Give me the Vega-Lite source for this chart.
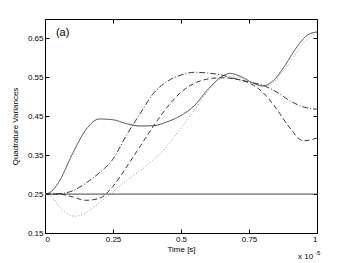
{
  "$schema": "https://vega.github.io/schema/vega-lite/v6.json",
  "autosize": "none",
  "width": 272,
  "height": 214,
  "padding": {"left": 45, "top": 19, "right": 32, "bottom": 30},
  "background": "white",
  "config": {
    "view": {"stroke": "black", "strokeWidth": 1},
    "font": "Liberation Sans",
    "axis": {"labelFont": "Liberation Sans", "titleFont": "Liberation Sans", "labelFontSize": 8, "titleFontSize": 8, "titleFontWeight": "normal", "labelColor": "black", "titleColor": "black", "domainColor": "black", "tickColor": "black", "grid": false}
  },
  "datasets": {
    "curves": [
      {"s": "solid", "x": 0, "y": 0.25}, {"s": "solid", "x": 0.02, "y": 0.255}, {"s": "solid", "x": 0.05, "y": 0.28}, {"s": "solid", "x": 0.1, "y": 0.352}, {"s": "solid", "x": 0.15, "y": 0.415}, {"s": "solid", "x": 0.2, "y": 0.443}, {"s": "solid", "x": 0.25, "y": 0.441}, {"s": "solid", "x": 0.3, "y": 0.431}, {"s": "solid", "x": 0.35, "y": 0.425}, {"s": "solid", "x": 0.4, "y": 0.426}, {"s": "solid", "x": 0.45, "y": 0.436}, {"s": "solid", "x": 0.5, "y": 0.452}, {"s": "solid", "x": 0.55, "y": 0.478}, {"s": "solid", "x": 0.6, "y": 0.52}, {"s": "solid", "x": 0.65, "y": 0.552}, {"s": "solid", "x": 0.68, "y": 0.56}, {"s": "solid", "x": 0.72, "y": 0.552}, {"s": "solid", "x": 0.76, "y": 0.537}, {"s": "solid", "x": 0.8, "y": 0.528}, {"s": "solid", "x": 0.84, "y": 0.542}, {"s": "solid", "x": 0.88, "y": 0.578}, {"s": "solid", "x": 0.92, "y": 0.622}, {"s": "solid", "x": 0.96, "y": 0.656}, {"s": "solid", "x": 1, "y": 0.667},
      {"s": "dashdot", "x": 0, "y": 0.25}, {"s": "dashdot", "x": 0.05, "y": 0.251}, {"s": "dashdot", "x": 0.1, "y": 0.258}, {"s": "dashdot", "x": 0.15, "y": 0.278}, {"s": "dashdot", "x": 0.2, "y": 0.305}, {"s": "dashdot", "x": 0.25, "y": 0.34}, {"s": "dashdot", "x": 0.3, "y": 0.402}, {"s": "dashdot", "x": 0.35, "y": 0.457}, {"s": "dashdot", "x": 0.4, "y": 0.51}, {"s": "dashdot", "x": 0.45, "y": 0.54}, {"s": "dashdot", "x": 0.5, "y": 0.556}, {"s": "dashdot", "x": 0.55, "y": 0.563}, {"s": "dashdot", "x": 0.6, "y": 0.561}, {"s": "dashdot", "x": 0.65, "y": 0.556}, {"s": "dashdot", "x": 0.7, "y": 0.546}, {"s": "dashdot", "x": 0.75, "y": 0.538}, {"s": "dashdot", "x": 0.8, "y": 0.53}, {"s": "dashdot", "x": 0.85, "y": 0.513}, {"s": "dashdot", "x": 0.9, "y": 0.49}, {"s": "dashdot", "x": 0.95, "y": 0.474}, {"s": "dashdot", "x": 1, "y": 0.468},
      {"s": "dashed", "x": 0, "y": 0.25}, {"s": "dashed", "x": 0.05, "y": 0.25}, {"s": "dashed", "x": 0.1, "y": 0.243}, {"s": "dashed", "x": 0.15, "y": 0.234}, {"s": "dashed", "x": 0.2, "y": 0.239}, {"s": "dashed", "x": 0.25, "y": 0.27}, {"s": "dashed", "x": 0.3, "y": 0.32}, {"s": "dashed", "x": 0.35, "y": 0.373}, {"s": "dashed", "x": 0.4, "y": 0.426}, {"s": "dashed", "x": 0.45, "y": 0.474}, {"s": "dashed", "x": 0.5, "y": 0.512}, {"s": "dashed", "x": 0.55, "y": 0.535}, {"s": "dashed", "x": 0.6, "y": 0.546}, {"s": "dashed", "x": 0.65, "y": 0.549}, {"s": "dashed", "x": 0.7, "y": 0.546}, {"s": "dashed", "x": 0.75, "y": 0.536}, {"s": "dashed", "x": 0.8, "y": 0.512}, {"s": "dashed", "x": 0.85, "y": 0.47}, {"s": "dashed", "x": 0.9, "y": 0.42}, {"s": "dashed", "x": 0.95, "y": 0.387}, {"s": "dashed", "x": 1, "y": 0.394},
      {"s": "dotted", "x": 0, "y": 0.25}, {"s": "dotted", "x": 0.025, "y": 0.243}, {"s": "dotted", "x": 0.055, "y": 0.216}, {"s": "dotted", "x": 0.085, "y": 0.198}, {"s": "dotted", "x": 0.11, "y": 0.193}, {"s": "dotted", "x": 0.14, "y": 0.198}, {"s": "dotted", "x": 0.17, "y": 0.212}, {"s": "dotted", "x": 0.215, "y": 0.236}, {"s": "dotted", "x": 0.26, "y": 0.262}, {"s": "dotted", "x": 0.3, "y": 0.285}, {"s": "dotted", "x": 0.35, "y": 0.31}, {"s": "dotted", "x": 0.4, "y": 0.339}, {"s": "dotted", "x": 0.45, "y": 0.375}, {"s": "dotted", "x": 0.5, "y": 0.42}, {"s": "dotted", "x": 0.55, "y": 0.467}, {"s": "dotted", "x": 0.6, "y": 0.515}, {"s": "dotted", "x": 0.65, "y": 0.548}, {"s": "dotted", "x": 0.7, "y": 0.551}, {"s": "dotted", "x": 0.75, "y": 0.54}, {"s": "dotted", "x": 0.8, "y": 0.527}, {"s": "dotted", "x": 0.83, "y": 0.531}, {"s": "dotted", "x": 0.87, "y": 0.562}, {"s": "dotted", "x": 0.9, "y": 0.588}, {"s": "dotted", "x": 0.95, "y": 0.638}, {"s": "dotted", "x": 1, "y": 0.665}
    ],
    "base": [{"y": 0.25}],
    "notes": [{"x": 0.04, "y": 0.665, "t": "(a)"}]
  },
  "layer": [
    {
      "data": {"name": "base"},
      "mark": {"type": "rule", "color": "#444444", "strokeWidth": 1},
      "encoding": {
        "y": {"field": "y", "type": "quantitative", "scale": {"domain": [0.15, 0.7], "nice": false, "zero": false},
          "axis": {"orient": "left", "title": "Quadrature Variances", "values": [0.15, 0.25, 0.35, 0.45, 0.55, 0.65], "format": ".2f", "tickSize": -4, "labelPadding": 6, "titlePadding": 8, "domain": false}}
      }
    },
    {
      "data": {"name": "curves"},
      "mark": {"type": "line", "interpolate": "monotone", "strokeWidth": 0.9, "clip": true},
      "encoding": {
        "x": {"field": "x", "type": "quantitative", "scale": {"domain": [0, 1], "nice": false},
          "axis": {"orient": "bottom", "title": "Time [s]", "values": [0, 0.25, 0.5, 0.75, 1], "labelExpr": "datum.value + ''", "tickSize": -4, "labelPadding": 6, "titlePadding": 2, "domain": false}},
        "y": {"field": "y", "type": "quantitative", "axis": null},
        "detail": {"field": "s"},
        "strokeDash": {"field": "s", "type": "nominal", "legend": null,
          "scale": {"domain": ["solid", "dashdot", "dashed", "dotted"], "range": [[1, 0], [6, 2, 1, 2], [5, 3], [1, 2]]}},
        "color": {"field": "s", "type": "nominal", "legend": null,
          "scale": {"domain": ["solid", "dashdot", "dashed", "dotted"], "range": ["#333333", "#222222", "#222222", "#888888"]}}
      }
    },
    {
      "data": {"name": "notes"},
      "mark": {"type": "text", "align": "left", "baseline": "middle", "fontSize": 11, "font": "Liberation Sans", "color": "black"},
      "encoding": {
        "x": {"field": "x", "type": "quantitative", "axis": null},
        "y": {"field": "y", "type": "quantitative", "axis": null},
        "text": {"field": "t"}
      }
    },
    {
      "data": {"values": [{"x": 0.96, "y": 0.15, "t": "x 10"}]},
      "mark": {"type": "text", "align": "left", "baseline": "top", "dx": -8, "dy": 20, "fontSize": 8, "font": "Liberation Sans", "color": "black"},
      "encoding": {
        "x": {"field": "x", "type": "quantitative", "axis": null},
        "y": {"field": "y", "type": "quantitative", "axis": null},
        "text": {"field": "t"}
      }
    },
    {
      "data": {"values": [{"x": 0.96, "y": 0.15, "t": "-5"}]},
      "mark": {"type": "text", "align": "left", "baseline": "top", "dx": 9, "dy": 17, "fontSize": 6, "font": "Liberation Sans", "color": "black"},
      "encoding": {
        "x": {"field": "x", "type": "quantitative", "axis": null},
        "y": {"field": "y", "type": "quantitative", "axis": null},
        "text": {"field": "t"}
      }
    },
    {
      "data": {"name": "base"},
      "mark": {"type": "point", "opacity": 0},
      "encoding": {
        "x": {"datum": 0.5, "type": "quantitative", "axis": {"orient": "top", "title": null, "labels": false, "values": [0, 0.25, 0.5, 0.75, 1], "tickSize": -4, "domain": false}},
        "y": {"field": "y", "type": "quantitative", "axis": {"orient": "right", "title": null, "labels": false, "values": [0.15, 0.25, 0.35, 0.45, 0.55, 0.65], "tickSize": -4, "domain": false}}
      }
    }
  ],
  "resolve": {"axis": {"x": "independent", "y": "independent"}}
}
